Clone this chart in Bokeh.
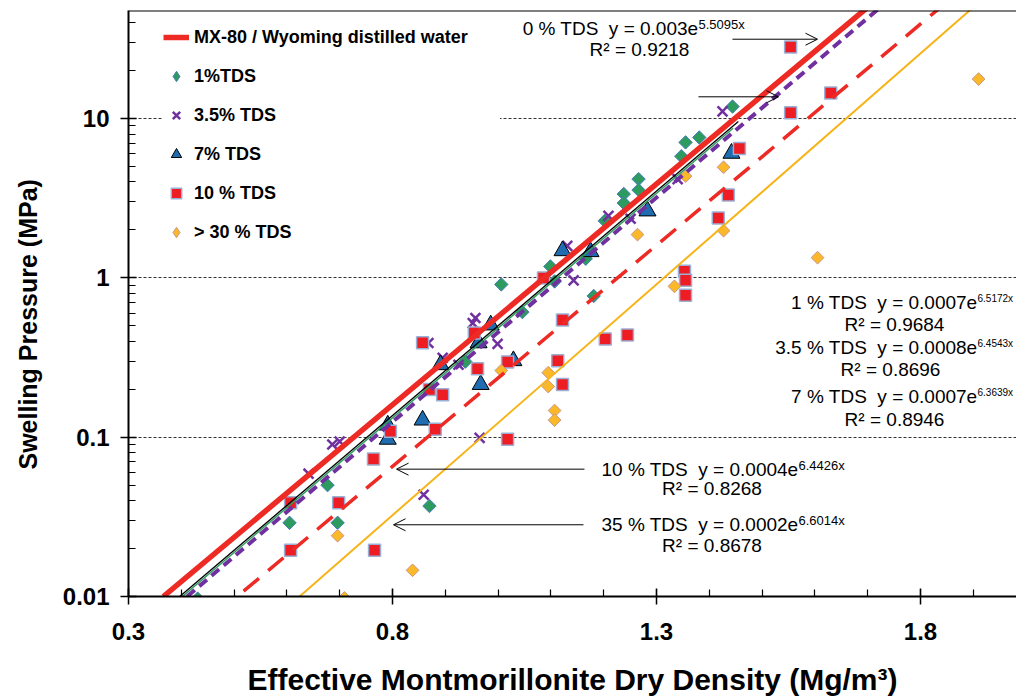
from bokeh.plotting import figure
from bokeh.models import (Range1d, FixedTicker, CustomJSTickFormatter, Legend, LegendItem,
                          Arrow, OpenHead, Label, Span)
from bokeh.embed import file_html
from bokeh.resources import INLINE

# ---------------- data ----------------
x_ticks = [0.3, 0.8, 1.3, 1.8]
x_minor = [0.3, 0.4, 0.5, 0.6, 0.7, 0.8, 0.9, 1.0, 1.1, 1.2, 1.3, 1.4, 1.5, 1.6, 1.7, 1.8, 1.9]
y_ticks = [0.01, 0.1, 1, 10]
y_minor = [0.02, 0.03, 0.04, 0.05, 0.06, 0.07, 0.08, 0.09,
           0.2, 0.3, 0.4, 0.5, 0.6, 0.7, 0.8, 0.9,
           2, 3, 4, 5, 6, 7, 8, 9, 20, 30, 40]

tds1_x = [0.431, 0.605, 0.677, 0.696, 0.870, 0.938, 1.006, 1.046, 1.099, 1.107, 1.166,
          1.181, 1.202, 1.238, 1.238, 1.266, 1.266, 1.347, 1.355, 1.381, 1.444]
tds1_y = [0.0097, 0.029, 0.050, 0.029, 0.037, 0.298, 0.91, 0.61, 1.18, 0.95, 1.32,
          0.77, 2.28, 3.36, 2.95, 4.17, 3.56, 5.8, 7.09, 7.61, 11.9]

tds35_x = [0.641, 0.686, 0.700, 0.859, 0.868, 0.895, 0.925, 0.952, 0.957, 0.999, 0.965,
           1.131, 1.143, 1.209, 1.251, 1.340, 1.425]
tds35_y = [0.059, 0.090, 0.094, 0.0435, 0.39, 0.315, 0.285, 0.52, 0.56, 0.385, 0.099,
           1.59, 0.965, 2.45, 2.35, 4.17, 11.1]

tds7_x = [0.791, 0.791, 0.857, 0.891, 0.963, 0.967, 0.986, 1.029, 1.122, 1.175, 1.283, 1.442]
tds7_y = [0.119, 0.097, 0.128, 0.285, 0.391, 0.214, 0.506, 0.302, 1.48, 1.46, 2.63, 6.05]

tds10_x = [0.607, 0.607, 0.698, 0.764, 0.766, 0.796, 0.857, 0.870, 0.895, 0.881, 0.955,
           0.961, 1.018, 1.018, 1.086, 1.113, 1.122, 1.122, 1.203, 1.245, 1.353, 1.355,
           1.355, 1.417, 1.436, 1.457, 1.554, 1.554, 1.630]
tds10_y = [0.0388, 0.0195, 0.0388, 0.073, 0.0195, 0.109, 0.391, 0.199, 0.185, 0.112, 0.451,
           0.269, 0.297, 0.097, 1.0, 0.302, 0.214, 0.544, 0.414, 0.438, 1.10, 0.965,
           0.778, 2.38, 3.31, 6.50, 10.9, 28.1, 14.5]

tds30_x = [0.696, 0.709, 0.838, 1.006, 1.095, 1.095, 1.107, 1.107, 1.264, 1.334, 1.355,
           1.427, 1.427, 1.605, 1.910]
tds30_y = [0.0241, 0.0098, 0.0146, 0.262, 0.254, 0.208, 0.147, 0.128, 1.87, 0.885, 4.35,
           4.95, 1.98, 1.34, 17.7]

# fitted exponential trend lines (straight on the log axis): end points
fit0_x, fit0_y = [0.366, 1.700], [0.01, 50]      # MX-80 / distilled water
fit1_x, fit1_y = [0.402, 1.445], [0.01, 8.7]     # 1 % TDS
fit7_x, fit7_y = [0.397, 1.455], [0.01, 9.6]     # 7 % TDS
fit35_x, fit35_y = [0.411, 1.724], [0.01, 50]    # 3.5 % TDS
fit10_x, fit10_y = [0.518, 1.838], [0.0108, 50]  # 10 % TDS
fit30_x, fit30_y = [0.624, 1.900], [0.01, 50]    # 35 % TDS

X_MIN, X_MAX = 0.3, 1.9818
Y_MIN, Y_MAX = 0.01, 47.7

FONT = "Liberation Sans"
NB = "\u00a0"
DIAMOND = 0.7854  # rotation that turns a square into a diamond

p = figure(width=1016, height=698, output_backend="svg", toolbar_location=None,
           y_axis_type="log", x_range=Range1d(X_MIN, X_MAX), y_range=Range1d(Y_MIN, Y_MAX),
           min_border_left=128, min_border_right=0, min_border_top=10, min_border_bottom=98)
p.outline_line_color = None
p.background_fill_color = "white"
p.border_fill_color = "white"
p.xgrid.grid_line_color = None
p.ygrid.grid_line_color = "#333333"
p.ygrid.grid_line_dash = "3 2"
p.ygrid.grid_line_width = 1

# axes
p.xaxis.ticker = FixedTicker(ticks=x_ticks, minor_ticks=x_minor)
p.yaxis.ticker = FixedTicker(ticks=y_ticks, minor_ticks=y_minor)
p.yaxis.formatter = CustomJSTickFormatter(code="return tick.toString();")
for ax in (p.xaxis, p.yaxis):
    ax.axis_line_width = 2
    ax.axis_line_color = "black"
    ax.major_tick_in = 8
    ax.major_tick_out = 8
    ax.major_tick_line_width = 1.5
    ax.minor_tick_in = 7
    ax.minor_tick_out = 0
    ax.minor_tick_line_width = 1.2
    ax.major_label_text_font = FONT
    ax.major_label_text_font_style = "bold"
    ax.major_label_text_font_size = "24px"
    ax.major_label_text_color = "black"
    ax.axis_label_text_font = FONT
    ax.axis_label_text_font_style = "bold"
    ax.axis_label_text_color = "black"
p.xaxis.major_label_standoff = 18
p.yaxis.major_label_standoff = 11
p.xaxis.axis_label = "Effective Montmorillonite Dry Density (Mg/m\u00b3)"
p.xaxis.axis_label_text_font_size = "30px"
p.xaxis.axis_label_standoff = 20
p.yaxis.axis_label = "Swelling Pressure (MPa)" + NB * 6
p.yaxis.axis_label_text_font_size = "25px"
p.yaxis.axis_label_standoff = 18

p.add_layout(Span(location=Y_MAX, dimension="width", line_color="black", line_width=2))

# markers
GREEN = dict(fill_color="#2E9B5E", line_color="#4A7EBB", line_width=1)
ORANGE = dict(fill_color="#FBB829", line_color="#C8968A", line_width=1)
# narrow diamonds (used as legend swatches), fully covered by the square diamonds on top
r1 = p.scatter(tds1_x, tds1_y, marker="diamond", size=12, **GREEN)
r30 = p.scatter(tds30_x, tds30_y, marker="diamond", size=11, **ORANGE)
p.scatter(tds1_x, tds1_y, marker="square", angle=DIAMOND, size=9.5, **GREEN)
r35 = p.scatter(tds35_x, tds35_y, marker="x", size=14, line_color="#7030A0", line_width=2.5)
r7 = p.scatter(tds7_x, tds7_y, marker="triangle", size=17, fill_color="#1F6CB0",
               line_color="black", line_width=1)
r10 = p.scatter(tds10_x, tds10_y, marker="square", size=12, fill_color="#EE1D23",
                line_color="#9BB0D6", line_width=1.5)
p.scatter(tds30_x, tds30_y, marker="square", angle=DIAMOND, size=9, **ORANGE)

# trend lines
p.line(fit30_x, fit30_y, line_color="#F7B418", line_width=2)
p.line(fit10_x, fit10_y, line_color="#EE2A24", line_width=3.5, line_dash="20 12")
p.line(fit1_x, fit1_y, line_color="#2E9B5E", line_width=1.5)
p.line(fit7_x, fit7_y, line_color="black", line_width=1.3)
p.line(fit35_x, fit35_y, line_color="#7030A0", line_width=4, line_dash="10 6")
r0 = p.line(fit0_x, fit0_y, line_color="#EE2A24", line_width=5.5)

legend = Legend(items=[
    LegendItem(label="MX-80 / Wyoming distilled water", renderers=[r0]),
    LegendItem(label="1%TDS", renderers=[r1]),
    LegendItem(label="3.5% TDS", renderers=[r35]),
    LegendItem(label="7% TDS", renderers=[r7]),
    LegendItem(label="10 % TDS", renderers=[r10]),
    LegendItem(label="> 30 % TDS", renderers=[r30]),
], location=(35, 351), orientation="vertical")
legend.label_text_font = FONT
legend.label_text_font_style = "bold"
legend.label_text_font_size = "18px"
legend.label_text_color = "black"
legend.glyph_width = 26
legend.glyph_height = 26
legend.label_height = 20
legend.label_width = 306
legend.spacing = 13
legend.padding = 6
legend.margin = 0
legend.label_standoff = 5
legend.background_fill_color = "white"
legend.background_fill_alpha = 1.0
legend.border_line_color = None
p.add_layout(legend)

# equation annotations
MAIN = "19px"


def txt(x, y, s, size=MAIN, align="left"):
    p.add_layout(Label(x=x, y=y, text=s, text_align=align, text_baseline="middle",
                       text_font=FONT, text_font_size=size, text_color="black"))


def eq(xs, ym, ys, main, sup, sup_size, r2x, r2y, r2):
    # main part ends where the exponent starts
    txt(xs, ym, main, align="right")
    txt(xs, ys, sup, size=sup_size)
    txt(r2x, r2y, r2, align="center")


eq(1.3795, 36.9, 39.1, "0 % TDS " + NB + "y = 0.003e", "5.5095x", "13px",
   1.2678, 27.3, "R\u00b2 = 0.9218")
eq(1.9080, 0.7026, 0.744, "1 % TDS " + NB + "y = 0.0007e", "6.5172x", "10px",
   1.7508, 0.5123, "R\u00b2 = 0.9684")
eq(1.9080, 0.368, 0.3897, "3.5 % TDS " + NB + "y = 0.0008e", "6.4543x", "10px",
   1.7432, 0.2647, "R\u00b2 = 0.8696")
eq(1.9080, 0.1797, 0.1903, "7 % TDS " + NB + "y = 0.0007e", "6.3639x", "10px",
   1.7508, 0.1291, "R\u00b2 = 0.8946")
eq(1.5689, 0.0630, 0.0667, "10 % TDS " + NB + "y = 0.0004e", "6.4426x", "13px",
   1.4051, 0.0473, "R\u00b2 = 0.8268")
eq(1.5689, 0.0282, 0.02986, "35 % TDS " + NB + "y = 0.0002e", "6.6014x", "13px",
   1.4051, 0.02085, "R\u00b2 = 0.8678")

for (xs, xe, ya) in [(1.4439, 1.6049, 31.5), (1.3795, 1.5311, 13.7),
                     (1.1636, 0.8076, 0.0630), (1.1617, 0.8019, 0.0282)]:
    p.add_layout(Arrow(end=OpenHead(size=12, line_width=1, line_color="black"),
                       x_start=xs, y_start=ya, x_end=xe, y_end=ya,
                       line_color="black", line_width=1))

open("out.html", "w").write(file_html(p, INLINE))
